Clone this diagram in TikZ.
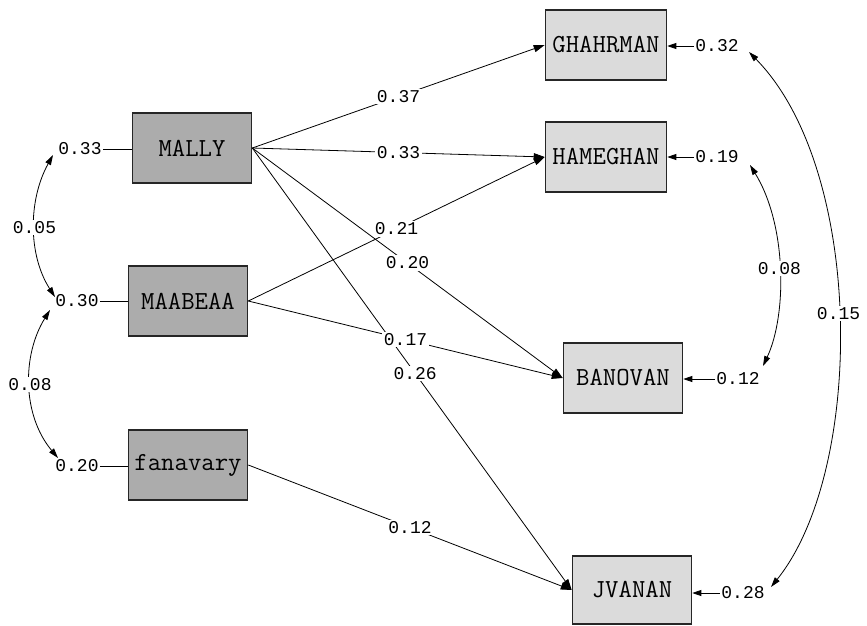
\documentclass[tikz,border=0pt]{standalone}
\usepackage{fontspec}
\newfontfamily\numfont{Liberation Mono}
\newcommand{\boxfont}{\ttfamily\addfontfeatures{LetterSpace=2}}
\usetikzlibrary{arrows.meta}
\begin{document}
\begin{tikzpicture}[x=1pt,y=-1pt,
  box/.style={draw=black!85, line width=1.6pt, minimum width=119pt, minimum height=70pt, inner sep=0pt,
    font=\boxfont\fontsize{26}{26}\selectfont},
  exo/.style={box, fill=gray!65},
  endo/.style={box, fill=gray!28},
  lbl/.style={font=\numfont\fontsize{18}{18}\selectfont, fill=white, inner sep=1.5pt},
  elbl/.style={font=\numfont\fontsize{18}{18}\selectfont, inner sep=1pt},
  path/.style={line width=0.8pt, -{Triangle[length=11pt,width=7pt]}},
  cov/.style={line width=0.8pt, {Triangle[length=10pt,width=6pt]}-{Triangle[length=10pt,width=6pt]}},
  err/.style={line width=0.8pt, -{Triangle[length=9pt,width=6pt]}}]
\useasboundingbox (0,0) rectangle (867,625);
\fill[white] (0,0) rectangle (867,625);

% exogenous boxes
\node[exo] (mally) at (192,148) {MALLY};
\node[exo] (maabeaa) at (188,301) {MAABEAA};
\node[exo] (fana) at (188,465) {fanavary};
% endogenous boxes
\node[endo, minimum width=121pt] (ghahr) at (606,45) {GHAHRMAN};
\node[endo, minimum width=121pt] (hamegh) at (606,157) {HAMEGHAN};
\node[endo] (banovan) at (623,378) {BANOVAN};
\node[endo, minimum height=68pt] (jvanan) at (632,590) {JVANAN};

% paths
\draw[path] (mally.east) -- (ghahr.west) node[lbl,pos=0.5] {0.37};
\draw[path] (mally.east) -- (hamegh.west) node[lbl,pos=0.5] {0.33};
\draw[path] (mally.east) -- (banovan.west) node[lbl,pos=0.5] {0.20};
\draw[path] (mally.east) -- (jvanan.west) node[lbl,pos=0.51] {0.26};
\draw[path] (maabeaa.east) -- (hamegh.west) node[lbl,pos=0.5] {0.21};
\draw[path] (maabeaa.east) -- (banovan.west) node[lbl,pos=0.5] {0.17};
\draw[path] (fana.east) -- (jvanan.west) node[lbl,pos=0.5] {0.12};

% left variances
\node[elbl] (v1) at (80,149) {0.33};
\node[elbl] (v2) at (77,301) {0.30};
\node[elbl] (v3) at (77,466) {0.20};
\draw[line width=0.8pt] (v1.east) -- (v1.east -| mally.west);
\draw[line width=0.8pt] (v2.east) -- (v2.east -| maabeaa.west);
\draw[line width=0.8pt] (v3.east) -- (v3.east -| fana.west);

% right error variances
\node[elbl] (r1) at (717,46) {0.32};
\node[elbl] (r2) at (717,157) {0.19};
\node[elbl] (r3) at (738,379) {0.12};
\node[elbl] (r4) at (743,593) {0.28};
\draw[err] (r1.west) -- (r1.west -| ghahr.east);
\draw[err] (r2.west) -- (r2.west -| hamegh.east);
\draw[err] (r3.west) -- (r3.west -| banovan.east);
\draw[err] (r4.west) -- (r4.west -| jvanan.east);

% covariance curves
\coordinate (c1a) at (53,155);
\coordinate (c1b) at (55,297);
\coordinate (c2a) at (50,310);
\coordinate (c2b) at (58,458);
\coordinate (c3a) at (750,165);
\coordinate (c3b) at (763,366);
\coordinate (c4a) at (749,52);
\coordinate (c4b) at (771,587);
\draw[cov] (c1a) .. controls (28,200) and (28,255) .. (c1b) node[lbl,pos=0.5] {0.05};
\draw[cov] (c2a) .. controls (22,355) and (22,415) .. (c2b) node[lbl,pos=0.5] {0.08};
\draw[cov] (c3a) .. controls (787,225) and (787,315) .. (c3b) node[lbl,pos=0.5] {0.08};
\draw[cov] (c4a) .. controls (865,170) and (865,470) .. (c4b) node[lbl,pos=0.49] {0.15};
\end{tikzpicture}
\end{document}
